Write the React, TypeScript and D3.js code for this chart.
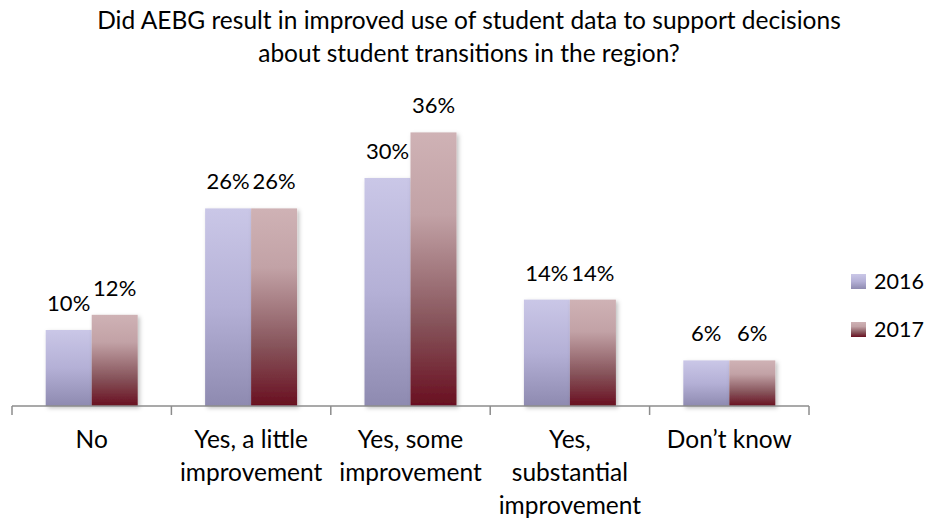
import React from "react";
import * as d3 from "d3";

const categories = [
  ["No"],
  ["Yes, a little", "improvement"],
  ["Yes, some", "improvement"],
  ["Yes,", "substantial", "improvement"],
  ["Don\u2019t know"],
];
const years = ["2016", "2017"];
const values2016 = [10, 26, 30, 14, 6];
const values2017 = [12, 26, 36, 14, 6];

const FONT = "Lato, 'Open Sans', sans-serif";
const W = 930;
const H = 518;

export default function App() {
  const keys = categories.map((c) => c.join(" "));
  const x0 = d3.scaleBand<string>().domain(keys).range([12, 809]).padding(0);
  const groupW = 92;
  const x1 = d3.scaleBand<string>().domain(years).range([0, groupW]).padding(0);
  const y = d3.scaleLinear().domain([0, 40]).range([406, 102]);
  const series = [values2016, values2017];
  const fills = ["url(#g2016)", "url(#g2017)"];
  const ticks = keys.map((k) => x0(k) as number).concat([x0.range()[1]]);

  return (
    <svg width={W} height={H} style={{ position: "absolute", left: 0, top: 0, background: "#fff" }} fontFamily={FONT}>
      <defs>
        <linearGradient id="g2016" x1="0" y1="0" x2="0" y2="1">
          <stop offset="0" stopColor="#CAC7E7" />
          <stop offset="0.5" stopColor="#B4B0D6" />
          <stop offset="1" stopColor="#8E8AB0" />
        </linearGradient>
        <linearGradient id="g2017" x1="0" y1="0" x2="0" y2="1">
          <stop offset="0" stopColor="#CFB2B5" />
          <stop offset="0.3" stopColor="#C2A2A6" />
          <stop offset="0.7" stopColor="#86535A" />
          <stop offset="1" stopColor="#690F20" />
        </linearGradient>
        <filter id="shadow" x="-20%" y="-20%" width="140%" height="140%">
          <feDropShadow dx="2" dy="2" stdDeviation="2" floodColor="#000" floodOpacity="0.25" />
        </filter>
      </defs>

      <text x={469} y={29} textAnchor="middle" fontSize={24.5} fill="#000">
        Did AEBG result in improved use of student data to support decisions
      </text>
      <text x={469} y={62} textAnchor="middle" fontSize={24.5} fill="#000">
        about student transitions in the region?
      </text>

      {keys.map((k, i) => (
        <g key={k} transform={`translate(${(x0(k) as number) + (x0.bandwidth() - groupW) / 2},0)`}>
          {years.map((yr, j) => {
            const v = series[j][i];
            const bx = x1(yr) as number;
            return (
              <g key={yr}>
                <rect
                  x={bx}
                  y={y(v)}
                  width={x1.bandwidth()}
                  height={y(0) - y(v)}
                  fill={fills[j]}
                  filter="url(#shadow)"
                />
                <text
                  x={bx + x1.bandwidth() / 2}
                  y={y(v) - 19}
                  textAnchor="middle"
                  fontSize={22}
                  fill="#000"
                >
                  {v}%
                </text>
              </g>
            );
          })}
        </g>
      ))}

      <line x1={12} x2={809} y1={406} y2={406} stroke="#8C8C8C" strokeWidth={1.5} />
      {ticks.map((t, i) => (
        <line key={i} x1={t} x2={t} y1={406} y2={415} stroke="#8C8C8C" strokeWidth={1.5} />
      ))}

      {keys.map((k, i) => (
        <text key={k} textAnchor="middle" fontSize={24.5} fill="#000">
          {categories[i].map((line, li) => (
            <tspan key={li} x={(x0(k) as number) + x0.bandwidth() / 2} y={448 + li * 33}>
              {line}
            </tspan>
          ))}
        </text>
      ))}

      {years.map((yr, j) => (
        <g key={yr} transform={`translate(851,${274 + j * 48})`}>
          <rect x={0} y={0} width={15} height={15} fill={fills[j]} />
          <text x={23} y={15} fontSize={21.5} fill="#000">
            {yr}
          </text>
        </g>
      ))}
    </svg>
  );
}
